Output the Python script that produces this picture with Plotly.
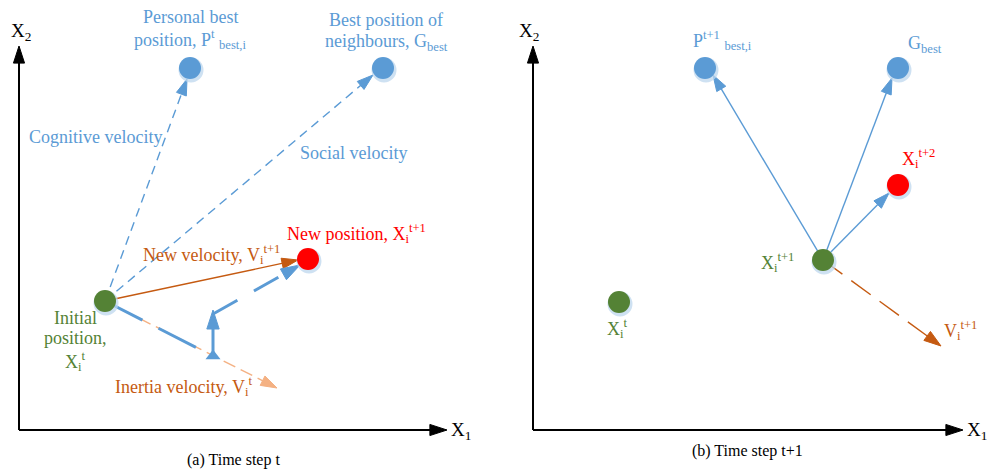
import plotly.graph_objects as go

W, H = 993, 471
FONT = "Liberation Serif, Times New Roman, serif"

BLUE = "#5B9BD5"
GREEN = "#548235"
RED = "#FF0000"
BROWN = "#C55A11"
PEACH = "#F4B183"

# ---- particle positions (panel a on the left, panel b on the right) ----
node_x = [190, 383, 105, 308, 705, 898, 898, 823, 619]
node_y = [68, 68, 301, 259, 68, 68, 185, 260, 302]
node_kind = ["best", "best", "current", "next", "best", "best", "next", "current", "current"]

# ---- velocity vectors: tail -> head ----
vec_x0 = [105, 105, 105, 105, 105, 213, 213, 823, 823, 823, 823]
vec_y0 = [301, 301, 301, 301, 301, 356, 314, 260, 260, 260, 260]
vec_x1 = [187, 373, 298, 277, 211, 213, 300, 713, 892, 889, 941]
vec_y1 = [79, 75, 260, 388, 355, 310, 265, 75, 78, 193, 346]
vec_kind = ["cog", "cog", "newvel", "inertia", "comp_a", "comp_b", "comp_c",
            "solid_b", "solid_b", "solid_b", "vel_b"]

# ---- coordinate axes of each panel: origin and arrow tips ----
axis_ox = [19, 533]
axis_oy = [430, 430]
axis_xtip = [447, 963]
axis_ytip = [46, 46]

# ---- text labels ----
label_text = [
    "X<sub>2</sub>", "X<sub>1</sub>", "X<sub>2</sub>", "X<sub>1</sub>",
    "Personal best", "position, P<sup>t</sup> <sub>best,i</sub>",
    "Best position of", "neighbours, G<sub>best</sub>",
    "Cognitive velocity", "Social velocity",
    "New position, X<sub>i</sub><sup>t+1</sup>",
    "New velocity, V<sub>i</sub><sup>t+1</sup>",
    "Initial", "position,", "X<sub>i</sub><sup>t</sup>",
    "Inertia velocity, V<sub>i</sub><sup>t</sup>",
    "(a) Time step t",
    "P<sup>t+1</sup> <sub>best,i</sub>", "G<sub>best</sub>",
    "X<sub>i</sub><sup>t+2</sup>", "X<sub>i</sub><sup>t+1</sup>",
    "X<sub>i</sub><sup>t</sup>", "V<sub>i</sub><sup>t+1</sup>",
    "(b) Time step t+1",
]
label_x = [21, 461, 529, 977, 190, 190, 386, 386, 95, 353, 356, 211,
           75, 75, 75, 183, 233, 722, 925, 918, 777, 617, 960, 747]
label_y = [32, 431, 32, 431, 17, 39, 20, 42, 137, 153, 233, 254,
           318, 338, 361, 386, 460, 40, 44, 158, 262, 328, 330, 451]
label_kind = ["axis", "axis", "axis", "axis", "blue", "blue", "blue", "blue",
              "blue", "blue", "red", "brown", "green", "green", "green",
              "brown", "caption", "blue", "blue", "red", "green", "green",
              "brown", "caption"]

node_style = {"best": BLUE, "current": GREEN, "next": RED}
vec_style = {
    "cog": dict(color=BLUE, width=1.4, dash="9px,6px", head=17),
    "newvel": dict(color=BROWN, width=1.4, dash="solid", head=17),
    "inertia": dict(color=PEACH, width=1.4, dash="13px,6px", head=17),
    "comp_a": dict(color=BLUE, width=3, dash="42px,18px", head=0),
    "comp_b": dict(color=BLUE, width=3, dash="solid", head=20),
    "comp_c": dict(color=BLUE, width=3, dash="28px,19px", head=20),
    "solid_b": dict(color=BLUE, width=1.4, dash="solid", head=17),
    "vel_b": dict(color=BROWN, width=1.4, dash="24px,11px", head=18),
}
label_style = {
    "axis": dict(color="black", size=19),
    "blue": dict(color=BLUE, size=18),
    "red": dict(color=RED, size=18),
    "brown": dict(color=BROWN, size=18),
    "green": dict(color=GREEN, size=18),
    "caption": dict(color="black", size=16),
}


def arrow_trace(x0, y0, x1, y1, color, width, dash, head):
    return go.Scatter(
        x=[x0, x1], y=[y0, y1], mode="lines+markers",
        line=dict(color=color, width=width, dash=dash),
        marker=dict(symbol="arrow", size=[0, head], color=color, opacity=1,
                    angleref="previous", line=dict(width=1, color=color)),
        hoverinfo="skip", showlegend=False)


fig = go.Figure()

# coordinate axes with arrow tips
for ox, oy, xt, yt in zip(axis_ox, axis_oy, axis_xtip, axis_ytip):
    for tx, ty in ((xt, oy), (ox, yt)):
        fig.add_trace(arrow_trace(ox, oy, tx, ty, "black", 2, "solid", 18))

# velocity vectors
for x0, y0, x1, y1, k in zip(vec_x0, vec_y0, vec_x1, vec_y1, vec_kind):
    st = vec_style[k]
    fig.add_trace(arrow_trace(x0, y0, x1, y1, st["color"], st["width"],
                              st["dash"], st["head"]))

# up-pointing head where the vertical component starts
fig.add_trace(go.Scatter(
    x=[vec_x0[5]], y=[vec_y0[5]], mode="markers",
    marker=dict(symbol="triangle-up", size=13, color=BLUE),
    hoverinfo="skip", showlegend=False))

# particle positions with a soft halo
fig.add_trace(go.Scatter(
    x=[v + 1 for v in node_x], y=[v + 2 for v in node_y], mode="markers",
    marker=dict(size=25, color="rgba(189,215,238,0.75)"),
    hoverinfo="skip", showlegend=False))
fig.add_trace(go.Scatter(
    x=node_x, y=node_y, mode="markers",
    marker=dict(size=22, color=[node_style[k] for k in node_kind]),
    hoverinfo="skip", showlegend=False))

for t, x, y, k in zip(label_text, label_x, label_y, label_kind):
    st = label_style[k]
    fig.add_annotation(x=x, y=y, text=t, showarrow=False,
                       xanchor="center", yanchor="middle",
                       font=dict(family=FONT, size=st["size"], color=st["color"]))

fig.update_xaxes(range=[0, W], visible=False, fixedrange=True)
fig.update_yaxes(range=[H, 0], visible=False, fixedrange=True)
fig.update_layout(width=W, height=H, autosize=False,
                  margin=dict(l=0, r=0, t=0, b=0),
                  paper_bgcolor="white", plot_bgcolor="white")

fig.write_html("out.html")
